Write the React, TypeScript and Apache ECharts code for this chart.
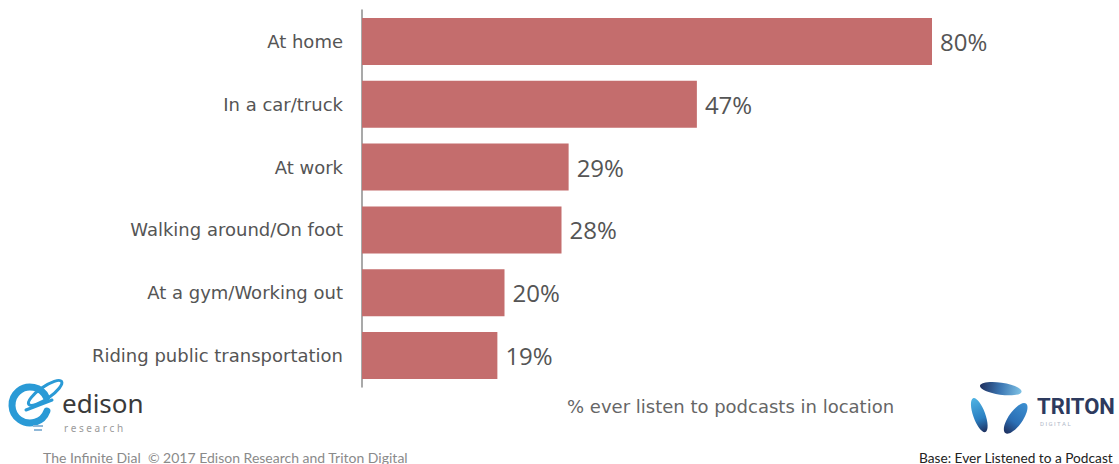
import React, { useEffect, useRef } from "react";
import * as echarts from "echarts";

const categories = [
  "At home",
  "In a car/truck",
  "At work",
  "Walking around/On foot",
  "At a gym/Working out",
  "Riding public transportation",
];
const values = [80, 47, 29, 28, 20, 19];
const subtitle = "% ever listen to podcasts in location";
const footerLeft = "The Infinite Dial  \u00a9 2017 Edison Research and Triton Digital";
const footerRight = "Base: Ever Listened to a Podcast";

export default function App() {
  const ref = useRef<HTMLDivElement>(null);
  useEffect(() => {
    if (!ref.current) return;
    const chart = echarts.init(ref.current, null, { renderer: "svg" });
    const blue = "#2a9ad6";
    chart.setOption({
      animation: false,
      backgroundColor: "#ffffff",
      grid: { left: 362, top: 10, height: 377, width: 712.5, containLabel: false },
      xAxis: { type: "value", min: 0, max: 100, show: false },
      yAxis: {
        type: "category",
        data: categories,
        inverse: true,
        axisLine: { show: true, lineStyle: { color: "#8c8c8c", width: 1.5 } },
        axisTick: { show: false },
        axisLabel: {
          margin: 19,
          fontSize: 18,
          fontFamily: "DejaVu Sans",
          color: "#555555",
        },
      },
      series: [
        {
          type: "bar",
          data: values,
          barWidth: 47,
          itemStyle: { color: "#c46d6d" },
          label: {
            show: true,
            position: "right",
            distance: 8,
            formatter: "{c}%",
            fontSize: 24,
            fontFamily: "Open Sans",
            color: "#555555",
          },
        },
      ],
      graphic: [
        {
          type: "text",
          left: 567,
          top: 397,
          style: { text: subtitle, fontSize: 18, fontFamily: "DejaVu Sans", fill: "#666666" },
        },
        {
          type: "text",
          left: 43,
          top: 450,
          style: { text: footerLeft, fontSize: 14, fontFamily: "Lato", fill: "#8a8a8a" },
        },
        {
          type: "text",
          right: 6,
          top: 450,
          style: { text: footerRight, fontSize: 13.7, fontFamily: "Lato", fill: "#222222" },
        },
        // Edison logo
        {
          type: "arc",
          shape: { cx: 30, cy: 405, r: 18, startAngle: (20 * Math.PI) / 180, endAngle: (-25 * Math.PI) / 180 },
          style: { stroke: blue, lineWidth: 7, fill: null, lineCap: "round" },
        },
        {
          type: "line",
          shape: { x1: 26, y1: 410, x2: 52, y2: 400 },
          style: { stroke: blue, lineWidth: 3, lineCap: "round" },
        },
        {
          type: "ellipse",
          shape: { cx: 45, cy: 393, rx: 20, ry: 6 },
          rotation: (35 * Math.PI) / 180,
          originX: 45,
          originY: 393,
          style: { stroke: blue, lineWidth: 3, fill: null },
        },
        {
          type: "rect",
          shape: { x: 33, y: 425, width: 10, height: 2 },
          style: { fill: "#8fb8d8" },
        },
        {
          type: "rect",
          shape: { x: 34, y: 429, width: 8, height: 2 },
          style: { fill: "#8fb8d8" },
        },
        {
          type: "text",
          left: 62,
          top: 390,
          style: { text: "edison", fontSize: 26, fontFamily: "Noto Sans", fill: "#3a3a3a" },
        },
        {
          type: "text",
          left: 64,
          top: 423,
          style: { text: "r e s e a r c h", fontSize: 10, fontFamily: "Noto Sans", fill: "#9a9a9a" },
        },
        // Triton logo
        {
          type: "ellipse",
          shape: { cx: 1001, cy: 389, rx: 21, ry: 6 },
          rotation: (-8 * Math.PI) / 180,
          originX: 1001,
          originY: 389,
          style: {
            fill: new echarts.graphic.LinearGradient(0, 0, 1, 0, [
              { offset: 0, color: "#1e2f5e" },
              { offset: 0.5, color: "#3d78b4" },
              { offset: 1, color: "#7fc3e6" },
            ]),
          },
        },
        {
          type: "ellipse",
          shape: { cx: 979, cy: 415, rx: 6, ry: 18 },
          rotation: (20 * Math.PI) / 180,
          originX: 979,
          originY: 415,
          style: {
            fill: new echarts.graphic.LinearGradient(0, 0, 0, 1, [
              { offset: 0, color: "#4fb3e3" },
              { offset: 0.6, color: "#2b7fc1" },
              { offset: 1, color: "#1e2f5e" },
            ]),
          },
        },
        {
          type: "ellipse",
          shape: { cx: 1016, cy: 418, rx: 7, ry: 18 },
          rotation: (-35 * Math.PI) / 180,
          originX: 1016,
          originY: 418,
          style: {
            fill: new echarts.graphic.LinearGradient(0, 0, 0, 1, [
              { offset: 0, color: "#3c8fd0" },
              { offset: 0.6, color: "#2b6fb5" },
              { offset: 1, color: "#1e2f5e" },
            ]),
          },
        },
        {
          type: "text",
          left: 1037,
          top: 395,
          style: {
            text: "TRITON",
            fontSize: 22,
            fontWeight: "bold",
            fontFamily: "Roboto",
            fill: "#2d3a5e",
          },
        },
        {
          type: "text",
          left: 1040,
          top: 420,
          style: { text: "D I G I T A L", fontSize: 6, fontFamily: "Roboto", fill: "#b0b8c8" },
        },
      ],
    });
    return () => chart.dispose();
  }, []);
  return (
    <div
      ref={ref}
      style={{ position: "fixed", left: 0, top: 0, width: 1119, height: 464 }}
    />
  );
}
